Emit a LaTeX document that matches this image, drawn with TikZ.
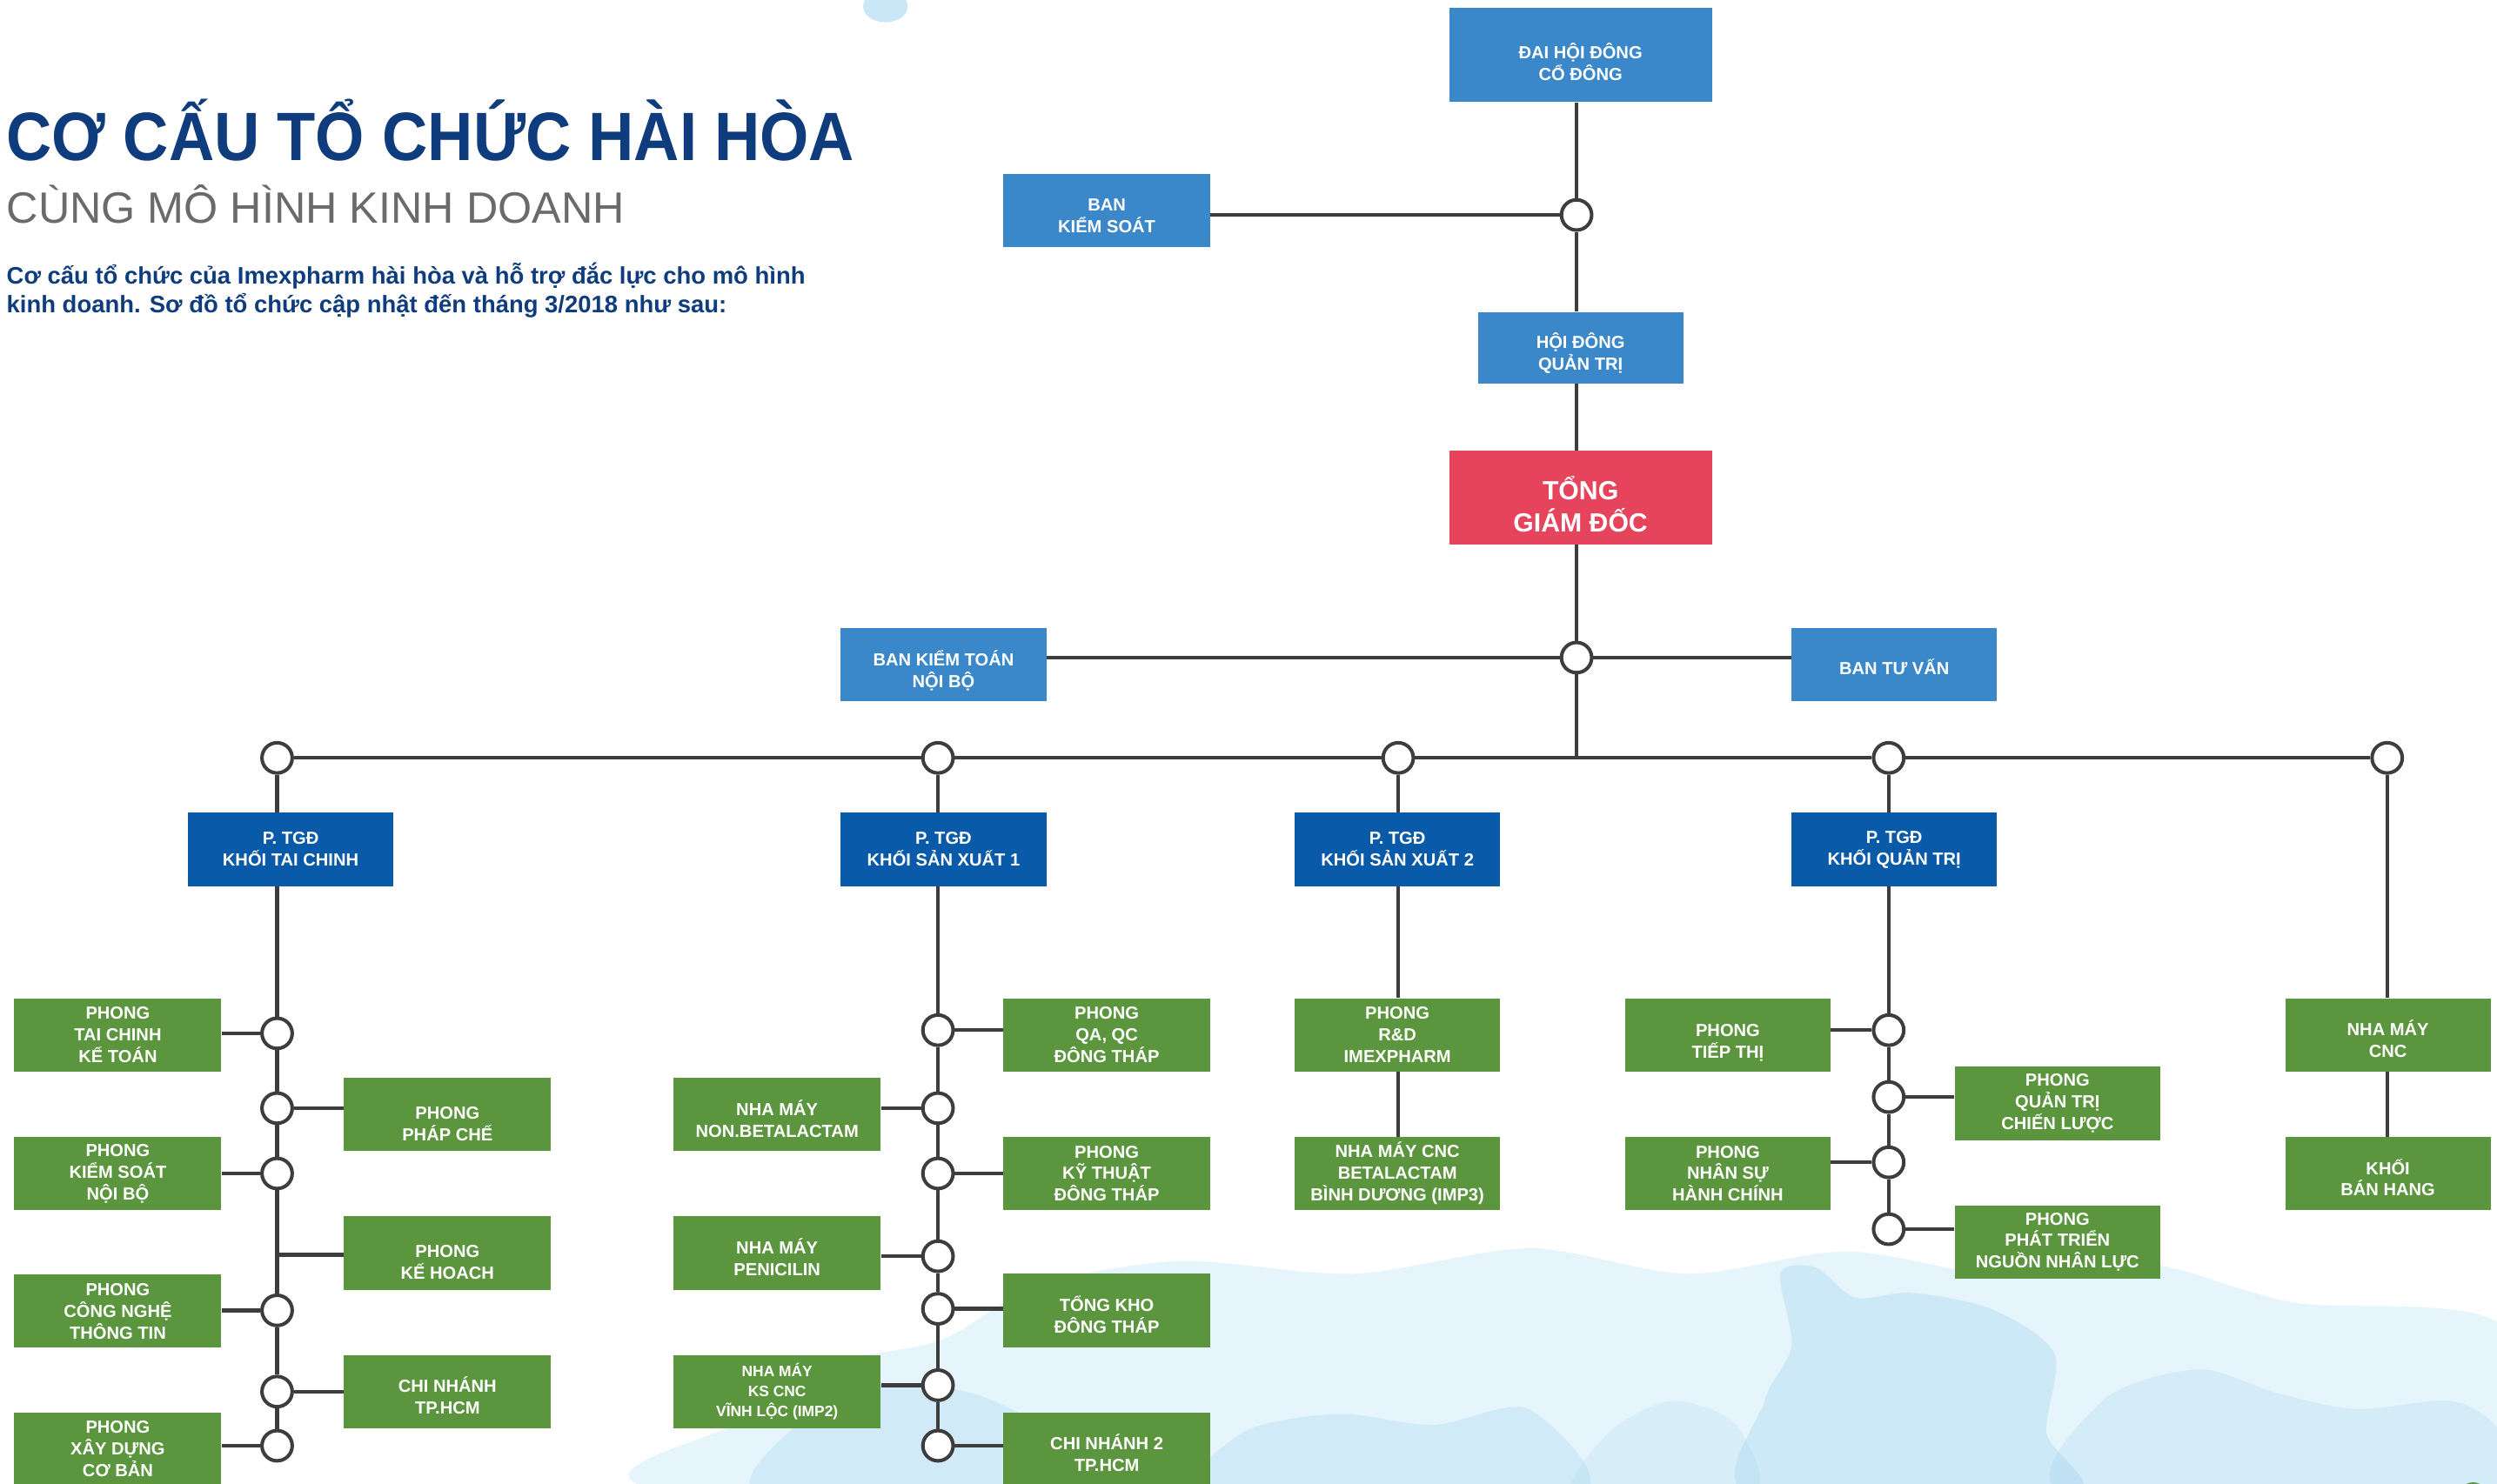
\documentclass[tikz,border=0pt]{standalone}
\usepackage{fontspec}
\setmainfont{Liberation Sans}
\newfontfamily\titlesans[FakeStretch=0.92]{Liberation Sans}
\usetikzlibrary{positioning}

\definecolor{skyblock}{HTML}{3A88CA}
\definecolor{deepblock}{HTML}{0A5AAA}
\definecolor{chiefred}{HTML}{E5445C}
\definecolor{deptgreen}{HTML}{5B963E}
\definecolor{wiregrey}{HTML}{3D3D3D}
\definecolor{navytitle}{HTML}{0E3C7C}
\definecolor{greytitle}{HTML}{6A6A6A}
\definecolor{wash}{HTML}{E6F4FB}
\definecolor{washdeep}{HTML}{9FD4F0}

\def\liftht{0pt}
\tikzset{
  lift/.code={\def\liftht{#1}},
  unit/.style={rectangle, inner sep=0pt, minimum width=130pt, minimum height=46pt,
    align=center, text=white, font=\fontsize{11}{13.6}\selectfont\bfseries,
    execute at begin node={\rule{0pt}{\liftht}}},
  board/.style={unit, fill=skyblock, lift=31pt},
  deputy/.style={unit, fill=deepblock, lift=0pt},
  dept/.style={unit, fill=deptgreen, lift=33pt},
  accent/.style={lift=28.5pt},
  chief/.style={unit, fill=chiefred, minimum width=165pt, minimum height=59pt,
    font=\fontsize{16.5}{20}\selectfont\bfseries, lift=43pt},
  hub/.style={circle, draw=wiregrey, fill=white, line width=2.2pt, minimum size=19pt, inner sep=0pt},
  link/.style={draw=wiregrey, line width=2.4pt},
}

\begin{document}
\begin{tikzpicture}[x=1pt, y=-1pt]
  \useasboundingbox (0,0) rectangle (1568,932);

  % watercolour wash
  \fill[washdeep!55] (556,4) ellipse [x radius=14, y radius=10];
  \fill[wash] plot[smooth cycle] coordinates {(462,940) (470,890) (510,858) (590,842)
    (650,808) (740,792) (850,800) (960,784) (1060,800) (1160,786) (1260,802) (1350,794)
    (1440,818) (1570,832) (1570,940)};
  \fill[washdeep, opacity=0.35] plot[smooth cycle] coordinates {(1118,800) (1140,796)
    (1165,815) (1200,812) (1250,822) (1290,850) (1285,900) (1300,940) (1100,940)
    (1108,880) (1125,845)};
  \fill[washdeep, opacity=0.3] plot[smooth cycle] coordinates {(760,940) (780,900)
    (840,888) (900,895) (960,885) (990,940)};
  \fill[washdeep, opacity=0.3] plot[smooth cycle] coordinates {(480,940) (500,895)
    (550,870) (610,875) (660,900) (690,940)};
  \fill[washdeep, opacity=0.25] plot[smooth cycle] coordinates {(1300,940) (1320,880)
    (1380,860) (1430,875) (1480,885) (1540,880) (1570,900) (1570,940)};
  \fill[washdeep, opacity=0.2] plot[smooth cycle] coordinates {(990,940) (1010,900)
    (1050,880) (1090,895) (1100,940)};
  \fill[deptgreen] (1553,940) circle [radius=9];

  % title block
  \node[anchor=base west, inner sep=0pt, text=navytitle,
    font=\titlesans\fontsize{43}{43}\selectfont\bfseries] (title) at (4,101)
    {CƠ CẤU TỔ CHỨC HÀI HÒA};
  \node[anchor=base west, inner sep=0pt, text=greytitle,
    font=\fontsize{27.5}{28}\selectfont] (subtitle) at (4,140) {CÙNG MÔ HÌNH KINH DOANH};
  \node[anchor=north west, inner sep=0pt, text=navytitle, align=left,
    font=\fontsize{15}{18}\selectfont\bfseries] (intro) at (4,165)
    {Cơ cấu tổ chức của Imexpharm hài hòa và hỗ trợ đắc lực cho mô hình\\
     kinh doanh. Sơ đồ tổ chức cập nhật đến tháng 3/2018 như sau:};

  % top of the chart
  \node[board, minimum width=165pt, minimum height=59pt, lift=32pt] (agm) at (992.5,34.5) {ĐAI HỘI ĐÔNG\\CỔ ĐÔNG};
  \node[board, lift=28pt] (bks) at (695,132) {BAN\\KIỂM SOÁT};
  \node[board, minimum width=129pt, minimum height=45pt, lift=30pt] (hdqt) at (992.5,218.5) {HỘI ĐÔNG\\QUẢN TRỊ};
  \node[chief] (tgd) at (992.5,312.5) {TỔNG\\GIÁM ĐỐC};
  \node[board, minimum width=129pt] (ktnb) at (592.5,417.5) {BAN KIỂM TOÁN\\NỘI BỘ};
  \node[board, minimum width=129pt, lift=13pt] (tuvan) at (1189.5,417.5) {BAN TƯ VẤN};

  \node[hub] (h1) at (990,135) {};
  \node[hub] (h2) at (990,413) {};
  \coordinate (spine) at (990,476);

  \draw[link] (agm.south -| h1) -- (h1);
  \draw[link] (h1) -- (h1 -| bks.east);
  \draw[link] (h1) -- (hdqt.north -| h1);
  \draw[link] (hdqt.south -| h1) -- (tgd.north -| h1);
  \draw[link] (tgd.south -| h1) -- (h2);
  \draw[link] (h2) -- (h2 -| ktnb.east);
  \draw[link] (h2) -- (h2 -| tuvan.west);
  \draw[link] (h2) -- (spine);

  % main bar
  \foreach \n/\x in {ra/174, rb/589, rc/878, rd/1186, re/1499}
    \node[hub] (\n) at (\x,476) {};
  \draw[link] (ra) -- (rb) -- (rc) -- (rd) -- (re);

  \node[deputy, minimum width=129pt] (pfin) at (182.5,533.5) {P. TGĐ\\KHỐI TAI CHINH};
  \node[deputy, minimum width=129pt] (psx1) at (592.5,533.5) {P. TGĐ\\KHỐI SẢN XUẤT 1};
  \node[deputy, minimum width=129pt] (psx2) at (877.5,533.5) {P. TGĐ\\KHỐI SẢN XUẤT 2};
  \node[deputy, minimum width=129pt] (pqt) at (1189.5,533.5) {P. TGĐ\\KHỐI QUẢN TRỊ};

  % finance branch
  \node[dept] (tckt) at (74,650) {PHONG\\TAI CHINH\\KẾ TOÁN};
  \node[dept] (phche) at (281,700) {PHONG\\PHÁP CHẾ};
  \node[dept] (ksnb) at (74,737) {PHONG\\KIỂM SOÁT\\NỘI BỘ};
  \node[dept] (khoach) at (281,787) {PHONG\\KẾ HOACH};
  \node[dept] (cntt) at (74,823.5) {PHONG\\CÔNG NGHỆ\\THÔNG TIN};
  \node[dept, accent] (cnhcm) at (281,874) {CHI NHÁNH\\TP.HCM};
  \node[dept] (xdcb) at (74,910) {PHONG\\XÂY DỰNG\\CƠ BẢN};

  \foreach \n/\y in {fa/649, fb/696, fc/737, fd/823, fe/874, ff/908}
    \node[hub] (\n) at (174,\y) {};
  \coordinate (fk) at (174,788);

  \draw[link] (ra) -- (pfin.north -| ra);
  \draw[link] (pfin.south -| ra) -- (fa) -- (fb) -- (fc) -- (fd) -- (fe) -- (ff);
  \draw[link] (fa) -- (fa -| tckt.east);
  \draw[link] (fb) -- (fb -| phche.west);
  \draw[link] (fc) -- (fc -| ksnb.east);
  \draw[link] (fk) -- (fk -| khoach.west);
  \draw[link] (fd) -- (fd -| cntt.east);
  \draw[link] (fe) -- (fe -| cnhcm.west);
  \draw[link] (ff) -- (ff -| xdcb.east);

  % production 1 branch
  \node[dept] (qaqc) at (695,650) {PHONG\\QA, QC\\ĐÔNG THÁP};
  \node[dept, accent] (nonbl) at (488,700) {NHA MÁY\\NON.BETALACTAM};
  \node[dept] (kythuat) at (695,737) {PHONG\\KỸ THUẬT\\ĐÔNG THÁP};
  \node[dept, accent] (penic) at (488,787) {NHA MÁY\\PENICILIN};
  \node[dept, accent] (tongkho) at (695,823) {TỔNG KHO\\ĐÔNG THÁP};
  \node[dept, font=\fontsize{9.5}{12.5}\selectfont\bfseries] (imp2) at (488,874) {NHA MÁY\\KS CNC\\VĨNH LỘC (IMP2)};
  \node[dept, accent] (cn2) at (695,910) {CHI NHÁNH 2\\TP.HCM};

  \foreach \n/\y in {sa/647, sb/696, sc/737, sd/789, se/822, sf/870, sg/908}
    \node[hub] (\n) at (589,\y) {};

  \draw[link] (rb) -- (psx1.north -| rb);
  \draw[link] (psx1.south -| rb) -- (sa) -- (sb) -- (sc) -- (sd) -- (se) -- (sf) -- (sg);
  \draw[link] (sa) -- (sa -| qaqc.west);
  \draw[link] (sb) -- (sb -| nonbl.east);
  \draw[link] (sc) -- (sc -| kythuat.west);
  \draw[link] (sd) -- (sd -| penic.east);
  \draw[link] (se) -- (se -| tongkho.west);
  \draw[link] (sf) -- (sf -| imp2.east);
  \draw[link] (sg) -- (sg -| cn2.west);

  % production 2 branch
  \node[dept, minimum width=129pt] (rnd) at (877.5,650) {PHONG\\R\&D\\IMEXPHARM};
  \node[dept, minimum width=129pt] (imp3) at (877.5,737) {NHA MÁY CNC\\BETALACTAM\\BÌNH DƯƠNG (IMP3)};

  \draw[link] (rc) -- (psx2.north -| rc);
  \draw[link] (psx2.south -| rc) -- (rnd.north -| rc);
  \draw[link] (rnd.south -| rc) -- (imp3.north -| rc);

  % administration branch
  \node[dept, minimum width=129pt, lift=31pt] (tiepthi) at (1085,650) {PHONG\\TIẾP THỊ};
  \node[dept, minimum width=129pt] (qtcl) at (1292,693) {PHONG\\QUẢN TRỊ\\CHIẾN LƯỢC};
  \node[dept, minimum width=129pt] (nshc) at (1085,737) {PHONG\\NHÂN SỰ\\HÀNH CHÍNH};
  \node[dept, minimum width=129pt] (ptnl) at (1292,780) {PHONG\\PHÁT TRIỂN\\NGUỒN NHÂN LỰC};

  \foreach \n/\y in {qa/647, qb/689, qc/730, qd/772}
    \node[hub] (\n) at (1186,\y) {};

  \draw[link] (rd) -- (pqt.north -| rd);
  \draw[link] (pqt.south -| rd) -- (qa) -- (qb) -- (qc) -- (qd);
  \draw[link] (qa) -- (qa -| tiepthi.east);
  \draw[link] (qb) -- (qb -| qtcl.west);
  \draw[link] (qc) -- (qc -| nshc.east);
  \draw[link] (qd) -- (qd -| ptnl.west);

  % sales branch
  \node[dept, accent, minimum width=129pt] (cnc) at (1499.5,650) {NHA MÁY\\CNC};
  \node[dept, accent, minimum width=129pt] (banhang) at (1499.5,737) {KHỐI\\BÁN HANG};

  \draw[link] (re) -- (cnc.north -| re);
  \draw[link] (cnc.south -| re) -- (banhang.north -| re);
\end{tikzpicture}
\end{document}
